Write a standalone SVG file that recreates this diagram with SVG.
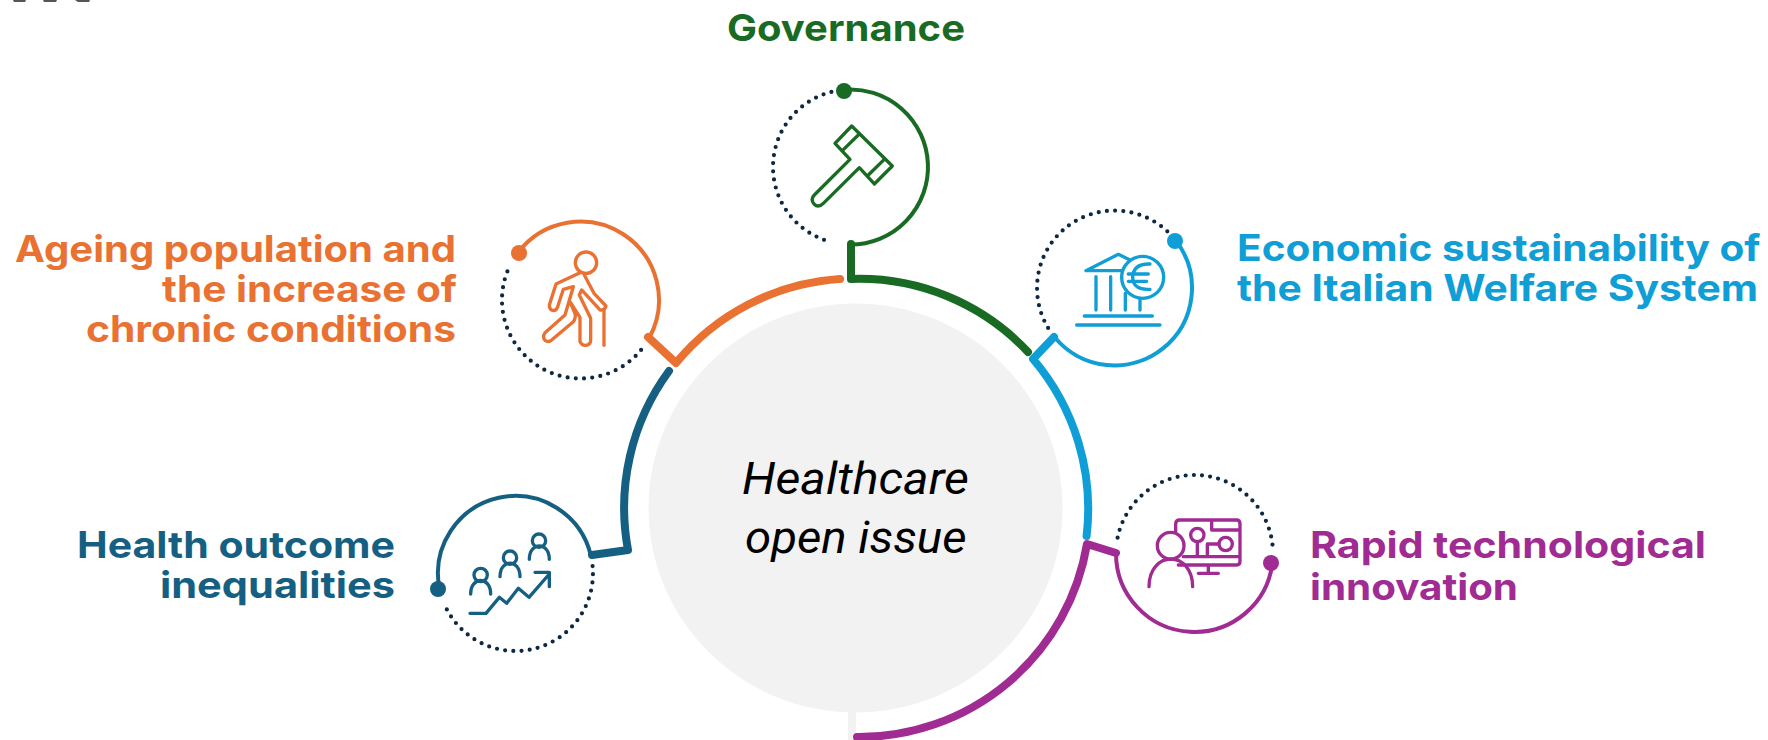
<svg xmlns="http://www.w3.org/2000/svg" width="1768" height="740" viewBox="0 0 1768 740">
<style>
.lab{font-family:"Inter","Liberation Sans",sans-serif;font-weight:700;font-size:37px}
.mid{font-family:"Roboto","Liberation Sans",sans-serif;font-style:italic;font-size:44px;fill:#000}
.ring{fill:none;stroke-width:8;stroke-linecap:round;stroke-linejoin:round}
.arc{fill:none;stroke-width:4;stroke-linecap:round}
.dots{fill:none;stroke:#0E2841;stroke-width:4.200;stroke-linecap:round;stroke-dasharray:0 8.200}
.ico{fill:none;stroke-width:10;stroke-linecap:round;stroke-linejoin:round}
.green{stroke:#196B24}.orange{stroke:#E97132}.blue{stroke:#0F9ED5}.teal{stroke:#156082}.purple{stroke:#A02B93}
</style>
<rect width="1768" height="740" fill="#fff"/>
<path d="M13 0H26L25 2H14ZM43 0H57L56 2H44ZM75 0H90L89 2H78Z" fill="#555"/>
<g id="center">
<rect x="848" y="705" width="8" height="35" fill="#F2F2F2"/>
<ellipse cx="855.500" cy="508" rx="207" ry="204.500" fill="#F2F2F2"/>
<text class="mid" x="742" y="494" textLength="227" lengthAdjust="spacingAndGlyphs">Healthcare</text>
<text class="mid" x="745" y="553" textLength="221.500" lengthAdjust="spacingAndGlyphs">open issue</text>
</g>
<g id="connectors">
<path class="ring green" d="M851 244V279M851 279A231 231 0 0 1 1028 352"/>
<path class="ring blue" d="M1054 337L1033 359A231 231 0 0 1 1086.600 536"/>
<path class="ring purple" d="M1116 553L1087 544A231 231 0 0 1 857 737"/>
<path class="ring teal" d="M592 555L628 550A231 231 0 0 1 669 371"/>
<path class="ring orange" d="M648 337L676 363A231 231 0 0 1 840 279"/>
</g>
<g id="node-governance">
<path class="arc green" d="M843.700 89.800A77.500 77.500 0 0 1 927.900 163.600A77.500 77.500 0 0 1 850.500 244.500"/>
<path class="dots" d="M824 239.800A77.500 77.500 0 0 1 773.300 160.200A77.500 77.500 0 0 1 837 90.700"/>
<circle cx="844" cy="91" r="8" fill="#196B24"/>
<g class="ico green" transform="translate(780 100) scale(.3333)">
<path d="M215 78L337 198L283 252L238 203L130 310Q115 325 102 312Q90 298 103 285L210 178L165 130Z"/>
<path d="M235 105L187 152M313 178L265 225"/>
</g>
<text class="lab" x="727" y="41" fill="#196B24" textLength="238" lengthAdjust="spacingAndGlyphs">Governance</text>
</g>
<g id="node-economic">
<path class="arc blue" d="M1175.600 240.300A77.500 77.500 0 0 1 1163 348.400A77.500 77.500 0 0 1 1054.700 337.300"/>
<path class="dots" d="M1048.100 327.900A77.500 77.500 0 0 1 1065.700 227.800A77.500 77.500 0 0 1 1167.800 231.800"/>
<circle cx="1175" cy="241" r="8" fill="#0F9ED5"/>
<g class="ico blue" transform="translate(1040 200) scale(.3333)">
<path d="M270 180L235 163L138 212H245M168 230V330M212 230V330M256 280V330M300 296V330M133 348H337M110 375H360"/>
<circle cx="308" cy="232" r="63"/>
<path d="M330 192Q280 190 278 232Q280 272 330 268M265 222H325M265 244H320"/>
</g>
<text class="lab" x="1237" y="261" fill="#0F9ED5" textLength="523.500" lengthAdjust="spacingAndGlyphs">Economic sustainability of</text>
<text class="lab" x="1237" y="300.500" fill="#0F9ED5" textLength="521" lengthAdjust="spacingAndGlyphs">the Italian Welfare System</text>
</g>
<g id="node-technology">
<path class="arc purple" d="M1272.400 563.200A78.500 78.500 0 0 1 1189.700 631.800A78.500 78.500 0 0 1 1116 553.500"/>
<path class="dots" d="M1117.600 537.700A78.500 78.500 0 0 1 1200.400 475.200A78.500 78.500 0 0 1 1272.900 549.400"/>
<circle cx="1271" cy="563" r="8" fill="#A02B93"/>
<g class="ico purple" transform="translate(1130 500) scale(.3333)">
<path d="M137 95V72Q137 60 149 60H320Q330 60 330 72V184Q330 195 320 195H145M160 170H330M245 62V90H330M202 125V170M267 132H232V170M235 195V220M205 220H265"/>
<circle cx="202" cy="105" r="20"/><circle cx="287" cy="132" r="20"/><circle cx="122" cy="137" r="40"/>
<path d="M57 260C57 150 188 150 188 260"/>
</g>
<text class="lab" x="1310" y="558" fill="#A02B93" textLength="396" lengthAdjust="spacingAndGlyphs">Rapid technological</text>
<text class="lab" x="1310" y="600" fill="#A02B93" textLength="208" lengthAdjust="spacingAndGlyphs">innovation</text>
</g>
<g id="node-inequalities">
<path class="arc teal" d="M439.500 588.700A77.500 77.500 0 0 1 498.700 497.800A77.500 77.500 0 0 1 590.800 555.300"/>
<path class="dots" d="M592.600 566.100A77.500 77.500 0 0 1 536.200 648.200A77.500 77.500 0 0 1 445.500 606.700"/>
<circle cx="438" cy="589" r="8" fill="#156082"/>
<g class="ico teal" transform="translate(450 510) scale(.3333)">
<circle cx="92" cy="195" r="20"/><circle cx="180" cy="143" r="20"/><circle cx="267" cy="92" r="20"/>
<path d="M62 252C62 198 122 198 122 252M150 200C150 146 210 146 210 200M238 148C238 94 298 94 298 148"/>
<path d="M60 310H108L148 262L170 280L205 235L237 262L298 192M255 187H298V230"/>
</g>
<text class="lab" x="77" y="558" fill="#156082" textLength="318" lengthAdjust="spacingAndGlyphs">Health outcome</text>
<text class="lab" x="160" y="598" fill="#156082" textLength="235" lengthAdjust="spacingAndGlyphs">inequalities</text>
</g>
<g id="node-ageing">
<path class="arc orange" d="M518.200 252.300A78.500 78.500 0 0 1 623.300 234.200A78.500 78.500 0 0 1 649.300 337.700"/>
<path class="dots" d="M641.100 349.900A78.500 78.500 0 0 1 538.200 366.100A78.500 78.500 0 0 1 509.800 265.800"/>
<circle cx="519" cy="253" r="8" fill="#E97132"/>
<g class="ico orange" transform="translate(520 230) scale(.3333)">
<circle cx="198" cy="98" r="32"/>
<path d="M180 128L108 162L88 225Q88 240 100 242Q110 242 113 230L130 178L160 170L135 255L75 308Q66 322 76 332Q86 338 95 330L160 275Q168 265 165 250L148 212L180 262V335Q186 348 198 346Q212 344 212 330V265L178 195L185 180L240 240Q254 242 258 228L222 190L193 135"/>
<path d="M252 240V346"/>
</g>
<text class="lab" x="15" y="262" fill="#E97132" textLength="441" lengthAdjust="spacingAndGlyphs">Ageing population and</text>
<text class="lab" x="162" y="302" fill="#E97132" textLength="295" lengthAdjust="spacingAndGlyphs">the increase of</text>
<text class="lab" x="86" y="342" fill="#E97132" textLength="370" lengthAdjust="spacingAndGlyphs">chronic conditions</text>
</g>
</svg>
